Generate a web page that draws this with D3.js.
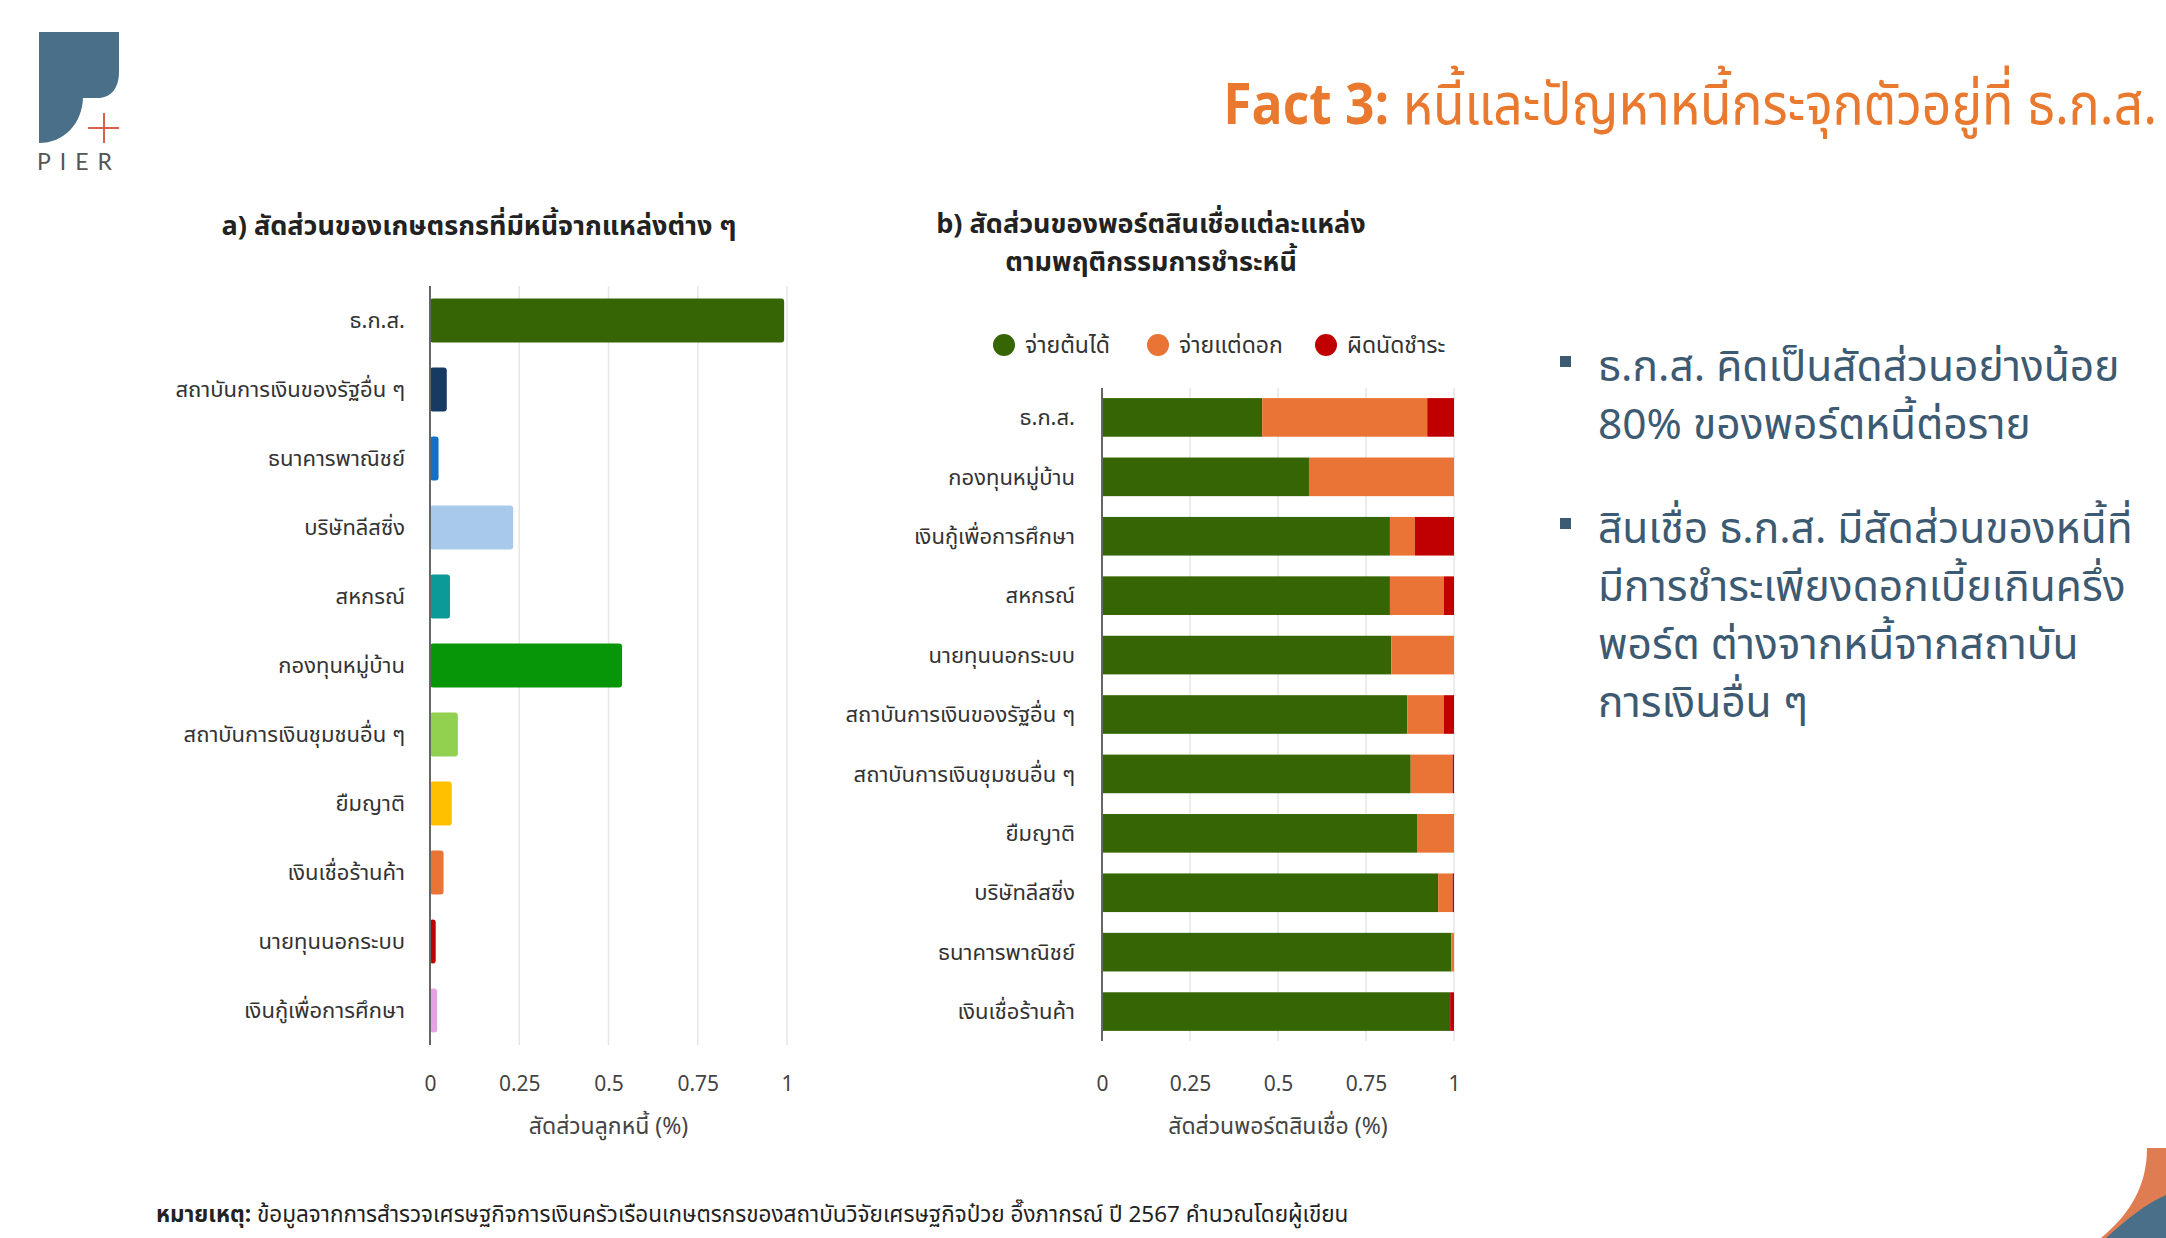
<!DOCTYPE html>
<html>
<head>
<meta charset="utf-8">
<title>Fact 3</title>
<script src="https://cdn.jsdelivr.net/npm/d3@7/dist/d3.min.js"></script>
<style>
  body { margin: 0; background: #fff; }
  svg text { font-family: "Noto Sans Thai", "Noto Sans", "DejaVu Sans", sans-serif; }
</style>
</head>
<body>
<script>
// ---- data ----
var catsA = ["ธ.ก.ส.", "สถาบันการเงินของรัฐอื่น ๆ", "ธนาคารพาณิชย์", "บริษัทลีสซิ่ง", "สหกรณ์",
  "กองทุนหมู่บ้าน", "สถาบันการเงินชุมชนอื่น ๆ", "ยืมญาติ", "เงินเชื่อร้านค้า", "นายทุนนอกระบบ", "เงินกู้เพื่อการศึกษา"];
var valsA = [0.992, 0.047, 0.024, 0.233, 0.056, 0.538, 0.078, 0.061, 0.038, 0.016, 0.020];
var colorsA = ["#366604", "#163a62", "#1470c4", "#a9c9eb", "#0c9a98", "#079607", "#92d050", "#ffc000", "#e97435", "#c00000", "#e6a3e3"];

var catsB = ["ธ.ก.ส.", "กองทุนหมู่บ้าน", "เงินกู้เพื่อการศึกษา", "สหกรณ์", "นายทุนนอกระบบ",
  "สถาบันการเงินของรัฐอื่น ๆ", "สถาบันการเงินชุมชนอื่น ๆ", "ยืมญาติ", "บริษัทลีสซิ่ง", "ธนาคารพาณิชย์", "เงินเชื่อร้านค้า"];
var payPrincipal = [0.455, 0.588, 0.818, 0.818, 0.822, 0.867, 0.877, 0.895, 0.955, 0.992, 0.989];
var payInterest  = [0.469, 0.412, 0.071, 0.153, 0.178, 0.104, 0.119, 0.105, 0.041, 0.008, 0.000];
var defaulted    = [0.076, 0.000, 0.111, 0.029, 0.000, 0.029, 0.004, 0.000, 0.004, 0.000, 0.011];
var seriesB = ["จ่ายต้นได้", "จ่ายแต่ดอก", "ผิดนัดชำระ"];
var colorsB = ["#366604", "#e97435", "#c00000"];

var ticks = [0, 0.25, 0.5, 0.75, 1];

var W = 2166, H = 1238;
var svg = d3.select("body").append("svg").attr("width", W).attr("height", H);

// ---- header ----
var logo = svg.append("g");
logo.append("path").attr("fill", "#4a7089")
  .attr("d", "M39,32 H119 V72 C119,89 110,98 98,98 H83 C82,124 64,143 39,143 Z");
logo.append("path").attr("stroke", "#d9604a").attr("stroke-width", 2).attr("fill", "none")
  .attr("d", "M88,128 H119 M104,113 V143");
logo.append("text").attr("x", 79).attr("y", 170).attr("text-anchor", "middle")
  .attr("font-size", 23).attr("letter-spacing", 9).attr("fill", "#555")
  .style("font-family", "Lato, 'Open Sans', sans-serif").text("PIER");

// title is a bit condensed to mimic the narrow slide font
var title = svg.append("g").attr("transform", "translate(2157,124) scale(0.89,1)")
  .append("text").attr("x", 0).attr("y", 0).attr("text-anchor", "end")
  .attr("font-size", 58).attr("fill", "#e8792e");
title.append("tspan").attr("font-weight", "bold").text("Fact 3:");
title.append("tspan").text(" หนี้และปัญหาหนี้กระจุกตัวอยู่ที่ ธ.ก.ส.");

// corner decoration
svg.append("path").attr("fill", "#e07c52")
  .attr("d", "M2147,1148 H2166 V1238 H2101 C2130,1214 2147,1186 2147,1148 Z");
svg.append("path").attr("fill", "#4a7089")
  .attr("d", "M2166,1195 V1238 H2106 C2126,1220 2145,1204 2166,1195 Z");

// ---- chart a ----
var xA = d3.scaleLinear().domain([0, 1]).range([430, 787]);
var yA = d3.scaleBand().domain(catsA).range([286, 1045]).paddingInner(0.36).paddingOuter(0.18);

var gA = svg.append("g");
gA.append("text").attr("x", 479).attr("y", 235).attr("text-anchor", "middle")
  .attr("font-size", 27).attr("font-weight", "bold").attr("fill", "#222")
  .text("a) สัดส่วนของเกษตรกรที่มีหนี้จากแหล่งต่าง ๆ");

gA.append("g").selectAll("line").data(ticks.slice(1)).enter().append("line")
  .attr("x1", function(d) { return xA(d); }).attr("x2", function(d) { return xA(d); })
  .attr("y1", 286).attr("y2", 1045).attr("stroke", "#e6e6e6").attr("stroke-width", 1.5);

gA.append("g").selectAll("rect").data(catsA).enter().append("rect")
  .attr("x", xA(0))
  .attr("y", function(d) { return yA(d); })
  .attr("width", function(d, i) { return xA(valsA[i]) - xA(0); })
  .attr("height", yA.bandwidth())
  .attr("rx", 3)
  .attr("fill", function(d, i) { return colorsA[i]; });

gA.append("line").attr("x1", xA(0)).attr("x2", xA(0)).attr("y1", 286).attr("y2", 1045)
  .attr("stroke", "#666").attr("stroke-width", 2);

var axA = gA.append("g").attr("transform", "translate(0,1045)")
  .call(d3.axisBottom(xA).tickValues(ticks).tickFormat(d3.format("")).tickSize(0).tickPadding(31));
axA.select(".domain").remove();
axA.selectAll("text").attr("font-size", 21).attr("fill", "#444");

gA.append("g").selectAll("text").data(catsA).enter().append("text")
  .attr("x", 405).attr("y", function(d) { return yA(d) + yA.bandwidth() / 2; })
  .attr("dy", "0.35em").attr("text-anchor", "end").attr("font-size", 22).attr("fill", "#333")
  .text(function(d) { return d; });

gA.append("text").attr("x", (xA(0) + xA(1)) / 2).attr("y", 1134).attr("text-anchor", "middle")
  .attr("font-size", 23).attr("fill", "#444").text("สัดส่วนลูกหนี้ (%)");

// ---- chart b ----
var xB = d3.scaleLinear().domain([0, 1]).range([1102, 1454]);
var yB = d3.scaleBand().domain(catsB).range([388, 1041]).paddingInner(0.35).paddingOuter(0.17);

var rowsB = catsB.map(function(c, i) {
  return { cat: c, "จ่ายต้นได้": payPrincipal[i], "จ่ายแต่ดอก": payInterest[i], "ผิดนัดชำระ": defaulted[i] };
});
var stacked = d3.stack().keys(seriesB)(rowsB);

var gB = svg.append("g");
gB.append("text").attr("x", 1151).attr("y", 233).attr("text-anchor", "middle")
  .attr("font-size", 27).attr("font-weight", "bold").attr("fill", "#222")
  .text("b) สัดส่วนของพอร์ตสินเชื่อแต่ละแหล่ง");
gB.append("text").attr("x", 1151).attr("y", 271).attr("text-anchor", "middle")
  .attr("font-size", 27).attr("font-weight", "bold").attr("fill", "#222")
  .text("ตามพฤติกรรมการชำระหนี้");

var legX = [1004, 1158, 1326];
var leg = gB.append("g").selectAll("g").data(seriesB).enter().append("g")
  .attr("transform", function(d, i) { return "translate(" + legX[i] + ",345)"; });
leg.append("circle").attr("r", 11).attr("fill", function(d, i) { return colorsB[i]; });
leg.append("text").attr("x", 21).attr("dy", "0.35em").attr("font-size", 23).attr("fill", "#333")
  .text(function(d) { return d; });

gB.append("g").selectAll("line").data(ticks.slice(1)).enter().append("line")
  .attr("x1", function(d) { return xB(d); }).attr("x2", function(d) { return xB(d); })
  .attr("y1", 388).attr("y2", 1041).attr("stroke", "#e6e6e6").attr("stroke-width", 1.5);

gB.append("g").selectAll("g").data(stacked).enter().append("g")
  .attr("fill", function(d, i) { return colorsB[i]; })
  .selectAll("rect").data(function(d) { return d; }).enter().append("rect")
  .attr("x", function(d) { return xB(d[0]); })
  .attr("y", function(d) { return yB(d.data.cat); })
  .attr("width", function(d) { return Math.max(0, xB(d[1]) - xB(d[0])); })
  .attr("height", yB.bandwidth());

gB.append("line").attr("x1", xB(0)).attr("x2", xB(0)).attr("y1", 388).attr("y2", 1041)
  .attr("stroke", "#666").attr("stroke-width", 2);

var axB = gB.append("g").attr("transform", "translate(0,1041)")
  .call(d3.axisBottom(xB).tickValues(ticks).tickFormat(d3.format("")).tickSize(0).tickPadding(35));
axB.select(".domain").remove();
axB.selectAll("text").attr("font-size", 21).attr("fill", "#444");

gB.append("g").selectAll("text").data(catsB).enter().append("text")
  .attr("x", 1075).attr("y", function(d) { return yB(d) + yB.bandwidth() / 2; })
  .attr("dy", "0.35em").attr("text-anchor", "end").attr("font-size", 22).attr("fill", "#333")
  .text(function(d) { return d; });

gB.append("text").attr("x", (xB(0) + xB(1)) / 2).attr("y", 1134).attr("text-anchor", "middle")
  .attr("font-size", 23).attr("fill", "#444").text("สัดส่วนพอร์ตสินเชื่อ (%)");

// ---- right side notes ----
var notes = [
  ["ธ.ก.ส. คิดเป็นสัดส่วนอย่างน้อย", "80% ของพอร์ตหนี้ต่อราย"],
  ["สินเชื่อ ธ.ก.ส. มีสัดส่วนของหนี้ที่", "มีการชำระเพียงดอกเบี้ยเกินครึ่ง", "พอร์ต ต่างจากหนี้จากสถาบัน", "การเงินอื่น ๆ"]
];
var noteY = [366, 528];
notes.forEach(function(lines, k) {
  svg.append("rect").attr("x", 1560).attr("y", noteY[k] - 10).attr("width", 11).attr("height", 11)
    .attr("fill", "#3d5a73");
  lines.forEach(function(t, j) {
    svg.append("text").attr("x", 1598).attr("y", noteY[k] + j * 58).attr("dy", "0.35em")
      .attr("font-size", 42.5).attr("fill", "#3d5a73").text(t);
  });
});

// ---- footnote ----
var foot = svg.append("text").attr("x", 156).attr("y", 1214).attr("dy", "0.35em")
  .attr("font-size", 22.5).attr("fill", "#222");
foot.append("tspan").attr("font-weight", "bold").text("หมายเหตุ:");
foot.append("tspan").text(" ข้อมูลจากการสำรวจเศรษฐกิจการเงินครัวเรือนเกษตรกรของสถาบันวิจัยเศรษฐกิจป๋วย อึ๊งภากรณ์ ปี 2567 คำนวณโดยผู้เขียน");
</script>
</body>
</html>
